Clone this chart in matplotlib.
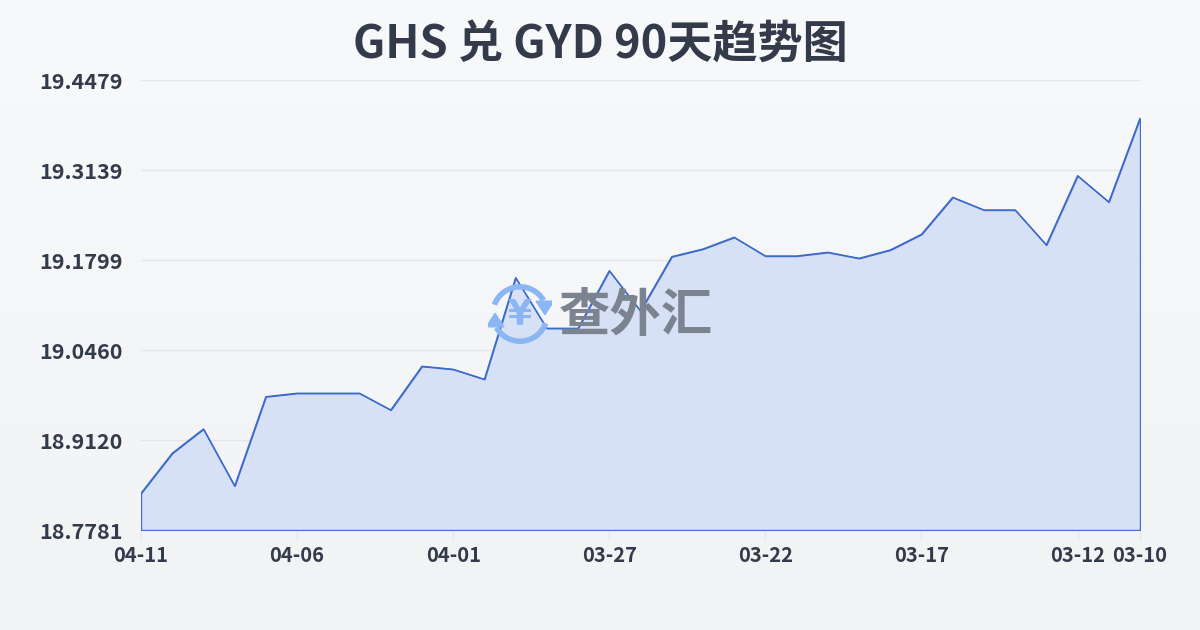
import matplotlib
matplotlib.use('Agg')
import matplotlib.pyplot as plt
import numpy as np
from matplotlib.patches import Arc, Polygon

# data (left to right as shown on the chart)
dates = ['04-11', '04-10', '04-09', '04-08', '04-07', '04-06', '04-05', '04-04',
         '04-03', '04-02', '04-01', '03-31', '03-30', '03-29', '03-28', '03-27',
         '03-26', '03-25', '03-24', '03-23', '03-22', '03-21', '03-20', '03-19',
         '03-18', '03-17', '03-16', '03-15', '03-14', '03-13', '03-12', '03-11',
         '03-10']
rates = [18.8327, 18.8923, 18.9284, 18.8436, 18.9765, 18.9816, 18.9816, 18.9816,
         18.9567, 19.0218, 19.0173, 19.0024, 19.1536, 19.0783, 19.0783, 19.1640,
         19.1041, 19.1849, 19.1963, 19.2138, 19.1859, 19.1859, 19.1914, 19.1825,
         19.1949, 19.2182, 19.2733, 19.2544, 19.2544, 19.2023, 19.3054, 19.2663,
         19.3909]
y_ticks = [18.7781, 18.9120, 19.0460, 19.1799, 19.3139, 19.4479]
tick_dates = ['04-11', '04-06', '04-01', '03-27', '03-22', '03-17', '03-12', '03-10']

title = 'GHS 兑 GYD 90天趋势图'
cjk = ['Noto Sans CJK SC', 'DejaVu Sans']
text_color = '#333b4a'
line_color = '#3b68cc'

fig = plt.figure(figsize=(12, 6.3), dpi=100)

# background gradient
bg = fig.add_axes([0, 0, 1, 1], zorder=-10)
grad = np.linspace(0, 1, 256).reshape(-1, 1)
bg.imshow(grad, aspect='auto', extent=[0, 1, 0, 1],
          cmap=matplotlib.colors.LinearSegmentedColormap.from_list('bg', ['#f8f9fa', '#f1f3f5']))
bg.axis('off')

ax = fig.add_axes([141 / 1200, 100 / 630, 999 / 1200, 450 / 630])
ax.set_facecolor('none')
x = np.arange(len(dates))
ax.fill_between(x, rates, y_ticks[0], facecolor='#d6e0f5', edgecolor=line_color,
                linewidth=1, alpha=0.95, zorder=2)
ax.plot(x, rates, color=line_color, linewidth=1, zorder=3)

ax.set_xlim(0, len(dates) - 1)
ax.set_ylim(y_ticks[0], y_ticks[-1])
ax.set_yticks(y_ticks)
ax.set_yticklabels(['%.4f' % v for v in y_ticks])
ax.set_xticks([dates.index(d) for d in tick_dates])
ax.set_xticklabels(tick_dates)
ax.grid(axis='y', color='#e2e5ea', linewidth=1, zorder=0)
for s in ax.spines.values():
    s.set_visible(False)
ax.tick_params(axis='y', length=0, pad=13, labelsize=15.5, labelcolor=text_color)
ax.tick_params(axis='x', length=8, color='#e2e5ea', pad=3, labelsize=14.5,
               labelcolor=text_color)
for lab in ax.get_xticklabels() + ax.get_yticklabels():
    lab.set_fontfamily(cjk)
    lab.set_fontweight('bold')

fig.text(0.5, 1 - 45 / 630, title, ha='center', va='center', fontsize=32.5,
         fontweight='bold', color=text_color, family=cjk)

# watermark
fig.text(559 / 1200, 1 - 315 / 630, '查外汇', ha='left', va='center', fontsize=37,
         fontweight='bold', color='#7b8290', family=cjk, zorder=1)
lg = fig.add_axes([488 / 1200, 1 - 346 / 630, 64 / 1200, 64 / 630], zorder=1)
lg.set_xlim(-1, 1)
lg.set_ylim(-1, 1)
lg.axis('off')
lg.patch.set_alpha(0)
logo_c = '#8ab6f3'
lg.add_patch(Arc((0, 0), 1.7, 1.7, theta1=30, theta2=160, color=logo_c, lw=4))
lg.add_patch(Arc((0, 0), 1.7, 1.7, theta1=210, theta2=340, color=logo_c, lw=4))
lg.add_patch(Polygon([[0.5, 0.4], [1.05, 0.4], [0.78, -0.02]], color=logo_c))
lg.add_patch(Polygon([[-0.5, -0.4], [-1.05, -0.4], [-0.78, 0.02]], color=logo_c))
lg.text(0, -0.04, '¥', ha='center', va='center', fontsize=25, fontweight='bold',
        color=logo_c, family='DejaVu Sans')

fig.savefig('out.png', dpi=100)
